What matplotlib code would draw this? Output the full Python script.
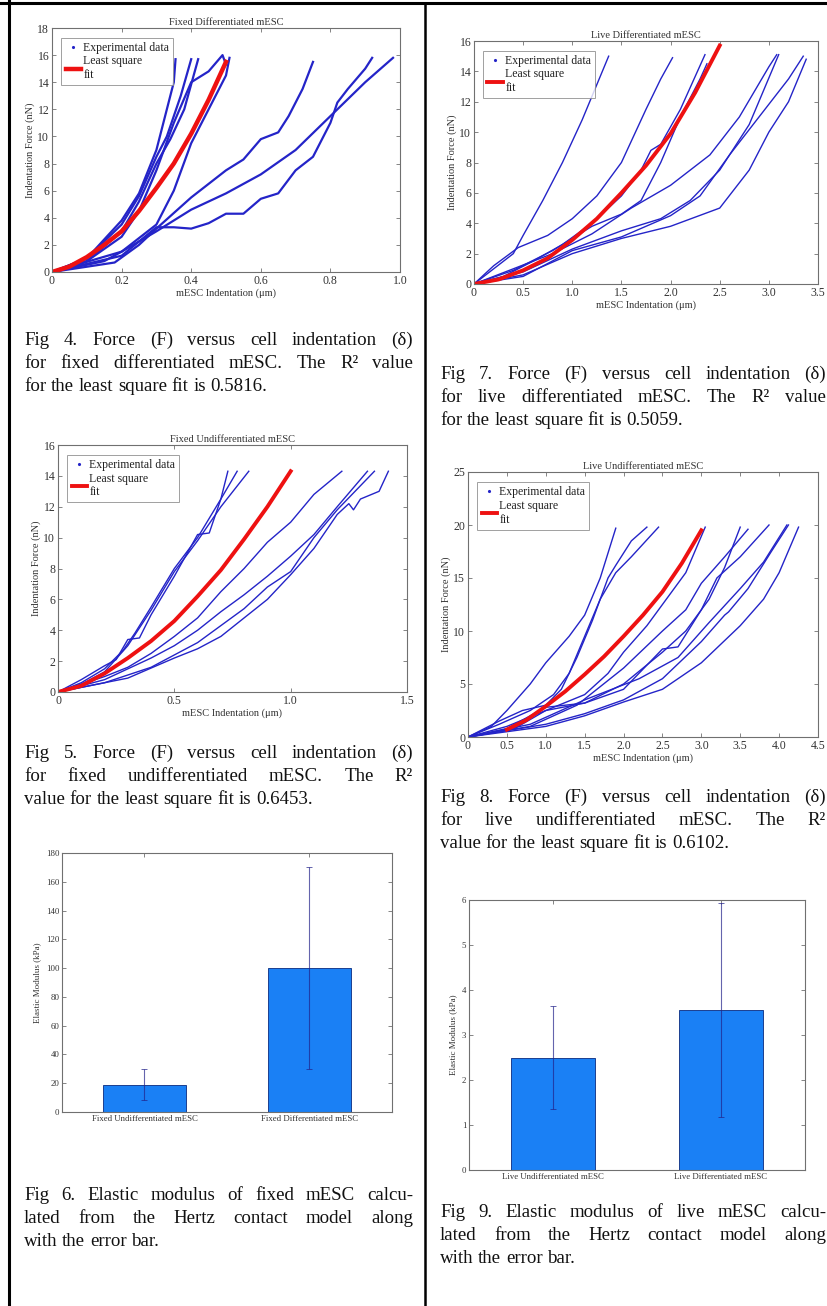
import matplotlib
matplotlib.use("Agg")
import matplotlib.pyplot as plt
from matplotlib.lines import Line2D

plt.rcParams['font.family'] = ['Liberation Serif', 'DejaVu Serif']

W, H = 828, 1306
BLUE = "#2424c8"
RED = "#ee1111"
BAR = "#1a80f5"

# ---- Fig 4: fixed differentiated (x um, y nN) ----
fd_x = [
    [0, 0.1, 0.2, 0.25, 0.3, 0.33, 0.35, 0.355],
    [0, 0.1, 0.2, 0.25, 0.3, 0.33, 0.37, 0.40],
    [0, 0.1, 0.2, 0.25, 0.3, 0.34, 0.38, 0.42],
    [0, 0.1, 0.2, 0.25, 0.3, 0.35, 0.4, 0.45, 0.49, 0.50],
    [0, 0.15, 0.2, 0.3, 0.35, 0.4, 0.45, 0.5, 0.51],
    [0, 0.18, 0.25, 0.3, 0.4, 0.5, 0.55, 0.6, 0.65, 0.68, 0.72, 0.75],
    [0, 0.2, 0.3, 0.35, 0.4, 0.45, 0.5, 0.55, 0.6, 0.65, 0.7, 0.75, 0.8, 0.82, 0.85, 0.9, 0.92],
    [0, 0.2, 0.3, 0.4, 0.5, 0.6, 0.7, 0.8, 0.9, 0.98],
]
fd_y = [
    [0, 1.0, 3.8, 5.8, 9.0, 12.0, 14.0, 15.7],
    [0, 1.0, 3.5, 5.6, 8.5, 10.0, 13.0, 15.7],
    [0, 0.8, 3.0, 5.2, 8.0, 9.8, 12.0, 15.7],
    [0, 0.8, 2.6, 4.5, 7.5, 11.0, 14.0, 14.8, 16.0, 15.3],
    [0, 0.8, 1.5, 3.5, 6.0, 9.5, 12.0, 14.5, 15.8],
    [0, 0.7, 2.0, 3.2, 5.5, 7.5, 8.3, 9.8, 10.3, 11.5, 13.5, 15.5],
    [0, 1.2, 3.3, 3.3, 3.2, 3.6, 4.3, 4.3, 5.4, 5.8, 7.5, 8.5, 11.0, 12.5, 13.5, 15.0, 15.8],
    [0, 1.5, 3.0, 4.6, 5.8, 7.2, 9.0, 11.5, 14.0, 15.8],
]
fd_fit_x = [0, 0.05, 0.1, 0.15, 0.2, 0.25, 0.3, 0.35, 0.4, 0.45, 0.5]
fd_fit_y = [0, 0.4, 1.1, 2.0, 3.0, 4.5, 6.2, 8.0, 10.2, 12.7, 15.5]

# ---- Fig 5: fixed undifferentiated ----
fu_x = [
    [0, 0.1, 0.2, 0.25, 0.3, 0.35, 0.4, 0.5, 0.6, 0.65, 0.7, 0.73],
    [0, 0.1, 0.2, 0.28, 0.33, 0.4, 0.5, 0.6, 0.7, 0.77],
    [0, 0.1, 0.2, 0.3, 0.4, 0.5, 0.6, 0.7, 0.82],
    [0, 0.2, 0.3, 0.4, 0.5, 0.6, 0.7, 0.8, 0.9, 1.0, 1.1, 1.22],
    [0, 0.2, 0.4, 0.5, 0.6, 0.7, 0.8, 0.9, 1.0, 1.1, 1.2, 1.33],
    [0, 0.2, 0.4, 0.6, 0.7, 0.8, 0.9, 1.0, 1.1, 1.2, 1.36],
    [0, 0.3, 0.5, 0.6, 0.7, 0.8, 0.9, 1.0, 1.1, 1.2, 1.25, 1.27, 1.3, 1.38, 1.42],
]
fu_y = [
    [0, 0.8, 1.7, 2.1, 3.4, 3.5, 5.0, 7.5, 10.2, 10.3, 12.5, 14.3],
    [0, 0.6, 1.5, 2.7, 3.8, 5.5, 8.0, 10.0, 12.5, 14.3],
    [0, 0.5, 1.3, 3.0, 5.3, 7.8, 9.8, 12.0, 14.3],
    [0, 1.0, 1.6, 2.5, 3.6, 4.8, 6.5, 8.0, 9.7, 11.0, 12.8, 14.3],
    [0, 0.8, 2.2, 3.0, 4.0, 5.2, 6.3, 7.5, 8.8, 10.2, 12.0, 14.3],
    [0, 0.6, 1.6, 3.2, 4.3, 5.4, 6.8, 7.8, 10.0, 11.8, 14.3],
    [0, 0.9, 2.2, 2.8, 3.6, 4.8, 6.0, 7.6, 9.3, 11.5, 12.2, 11.8, 12.5, 13.0, 14.3],
]
fu_fit_x = [0, 0.1, 0.2, 0.3, 0.4, 0.5, 0.6, 0.7, 0.8, 0.9, 1.0]
fu_fit_y = [0, 0.4, 1.2, 2.2, 3.3, 4.6, 6.2, 7.9, 9.9, 12.0, 14.3]

# ---- Fig 7: live differentiated ----
ld_x = [
    [0, 0.2, 0.4, 0.5, 0.7, 0.9, 1.1, 1.37],
    [0, 0.2, 0.45, 0.75, 1.0, 1.25, 1.5, 1.75, 1.9, 2.02],
    [0, 0.3, 0.6, 0.9, 1.2, 1.5, 1.7, 1.8, 1.9, 2.1, 2.35],
    [0, 0.4, 0.8, 1.2, 1.5, 1.7, 1.9, 2.1, 2.3, 2.37],
    [0, 0.4, 0.8, 1.2, 1.6, 2.0, 2.4, 2.7, 3.0, 3.08],
    [0, 0.5, 1.0, 1.5, 1.9, 2.2, 2.5, 2.8, 3.1],
    [0, 0.5, 1.0, 1.5, 2.0, 2.3, 2.6, 2.9, 3.2, 3.35],
    [0, 0.5, 1.0, 1.5, 2.0, 2.5, 2.8, 3.0, 3.2, 3.38],
]
ld_y = [
    [0, 1.0, 2.0, 3.2, 5.5, 8.0, 10.8, 15.0],
    [0, 1.2, 2.4, 3.2, 4.3, 5.8, 8.0, 11.5, 13.5, 14.9],
    [0, 0.5, 1.5, 2.6, 4.0, 5.8, 7.5, 8.8, 9.2, 11.5, 15.1],
    [0, 0.9, 2.2, 3.8, 4.6, 5.5, 8.0, 11.0, 13.5, 14.5],
    [0, 1.0, 2.0, 3.3, 5.0, 6.5, 8.5, 11.0, 14.3, 15.1],
    [0, 0.8, 2.3, 3.5, 4.3, 5.5, 7.5, 10.5, 15.1],
    [0, 0.5, 2.2, 3.1, 4.5, 5.8, 8.5, 11.0, 13.5, 15.0],
    [0, 0.6, 2.0, 3.0, 3.8, 5.0, 7.5, 10.0, 12.0, 14.8],
]
ld_fit_x = [0, 0.25, 0.5, 0.75, 1.0, 1.25, 1.5, 1.75, 2.0, 2.25, 2.5]
ld_fit_y = [0, 0.3, 0.9, 1.7, 2.9, 4.3, 6.0, 7.8, 9.9, 12.6, 15.7]

# ---- Fig 8: live undifferentiated ----
lu_x = [
    [0, 0.3, 0.5, 0.8, 1.0, 1.3, 1.5, 1.7, 1.9],
    [0, 0.4, 0.7, 1.0, 1.2, 1.4, 1.6, 1.8, 1.9, 2.1, 2.3],
    [0, 0.4, 0.8, 1.1, 1.3, 1.5, 1.7, 1.9, 2.1, 2.45],
    [0, 0.5, 1.0, 1.5, 1.8, 2.0, 2.3, 2.6, 2.8, 3.05],
    [0, 0.5, 1.0, 1.5, 2.0, 2.5, 2.8, 3.1, 3.3, 3.5],
    [0, 0.8, 1.4, 2.0, 2.5, 2.8, 3.0, 3.3, 3.6],
    [0, 0.6, 1.0, 1.5, 2.0, 2.5, 2.7, 3.0, 3.2, 3.5, 3.87],
    [0, 1.0, 1.5, 2.0, 2.5, 3.0, 3.3, 3.35, 3.6, 3.9, 4.12],
    [0, 1.0, 1.5, 2.0, 2.5, 3.0, 3.5, 3.8, 4.0, 4.25],
    [0, 0.8, 1.5, 2.2, 2.7, 3.1, 3.5, 3.8, 4.1],
]
lu_y = [
    [0, 1.0, 2.5, 5.0, 7.0, 9.5, 11.5, 15.0, 19.7],
    [0, 1.5, 2.5, 3.0, 4.5, 7.5, 11.0, 15.0, 16.2, 18.5, 19.8],
    [0, 1.2, 2.5, 4.0, 6.0, 9.5, 13.0, 15.5, 17.0, 19.8],
    [0, 1.0, 2.5, 4.0, 6.0, 8.0, 10.5, 13.5, 15.5, 19.8],
    [0, 0.8, 2.8, 3.2, 5.0, 8.0, 10.0, 13.0, 16.0, 19.8],
    [0, 1.0, 3.0, 6.5, 10.0, 12.0, 14.5, 17.0, 19.6],
    [0, 0.8, 2.5, 3.2, 4.5, 8.3, 8.5, 12.0, 15.0, 17.0, 20.0],
    [0, 1.2, 2.2, 3.5, 5.5, 9.0, 11.5, 11.8, 14.0, 17.5, 20.0],
    [0, 1.0, 2.0, 3.3, 4.5, 7.0, 10.5, 13.0, 15.5, 19.8],
    [0, 1.2, 3.5, 5.5, 7.5, 10.8, 14.0, 16.5, 20.0],
]
lu_fit_x = [0.5, 0.75, 1.0, 1.25, 1.5, 1.75, 2.0, 2.25, 2.5, 2.75, 3.0]
lu_fit_y = [0.7, 1.6, 2.9, 4.3, 5.9, 7.6, 9.5, 11.5, 13.7, 16.4, 19.5]

# ---- Fig 6 / Fig 9: elastic modulus bars ----
fixed_names = ["Fixed Undifferentiated mESC", "Fixed Differentiated mESC"]
fixed_mod = [19, 100]
fixed_err = [11, 70]
live_names = ["Live Undifferentiated mESC", "Live Differentiated mESC"]
live_mod = [2.5, 3.55]
live_err = [1.15, 2.38]

cap4 = ["Fig 4. Force (F) versus cell indentation (\u03b4)",
        "for fixed differentiated mESC. The R\u00b2 value",
        "for the least square fit is 0.5816."]
cap5 = ["Fig 5. Force (F) versus cell indentation (\u03b4)",
        "for fixed undifferentiated mESC. The R\u00b2",
        "value for the least square fit is 0.6453."]
cap6 = ["Fig 6. Elastic modulus of fixed mESC calcu-",
        "lated from the Hertz contact model along",
        "with the error bar."]
cap7 = ["Fig 7. Force (F) versus cell indentation (\u03b4)",
        "for live differentiated mESC. The R\u00b2 value",
        "for the least square fit is 0.5059."]
cap8 = ["Fig 8. Force (F) versus cell indentation (\u03b4)",
        "for live undifferentiated mESC. The R\u00b2",
        "value for the least square fit is 0.6102."]
cap9 = ["Fig 9. Elastic modulus of live mESC calcu-",
        "lated from the Hertz contact model along",
        "with the error bar."]

fig = plt.figure(figsize=(W / 100, H / 100), dpi=100)
fig.patch.set_facecolor("white")


def box(l, t, r, b):
    return fig.add_axes([l / W, 1 - b / H, (r - l) / W, (b - t) / H])


def matlab_style(ax, fs):
    for s in ax.spines.values():
        s.set_color("#707070")
        s.set_linewidth(0.8)
    ax.tick_params(direction="in", top=True, right=True, length=3,
                   width=0.6, color="#707070", labelsize=fs,
                   labelcolor="#333333", pad=2)


def force_plot(ax, xs, ys, fx, fy, xmax, ymax, xt, yt, title, lw, rlw):
    for x, y in zip(xs, ys):
        ax.plot(x, y, color=BLUE, lw=lw, solid_joinstyle="round")
    ax.plot([], [], ".", color=BLUE, ms=2.5, label="Experimental data")
    ax.plot(fx, fy, color=RED, lw=rlw, label="Least square\nfit")
    ax.set_xlim(0, xmax)
    ax.set_ylim(0, ymax)
    ax.set_xticks(xt)
    ax.set_yticks(yt)
    ax.set_xticklabels([("%g" % v) if v == 0 else ("%.1f" % v) for v in xt])
    ax.set_yticklabels(["%g" % v for v in yt])
    matlab_style(ax, 8.5)
    ax.set_title(title, fontsize=7.5, pad=2, color="#333333")
    ax.set_xlabel("mESC Indentation (\u03bcm)", fontsize=7.5, labelpad=1, color="#333333")
    ax.set_ylabel("Indentation Force (nN)", fontsize=7.5, labelpad=2, color="#333333")
    leg = ax.legend(loc="upper left", fontsize=8.5, handlelength=1.3,
                    handletextpad=0.2, borderpad=0.35, labelspacing=0.15,
                    fancybox=False, bbox_to_anchor=(0.01, 0.985))
    leg.get_frame().set_edgecolor("#888888")
    leg.get_frame().set_linewidth(0.7)
    for t in leg.get_texts():
        t.set_color("#222222")


def bar_plot(ax, names, vals, errs, ymax, yt, ylab):
    pos = [1, 2]
    ax.bar(pos, vals, width=0.5, color=BAR, edgecolor="#1b3f8f", lw=0.7, zorder=2)
    ax.errorbar(pos, vals, yerr=errs, fmt="none", ecolor="#22228a", elinewidth=0.8,
                capsize=2, capthick=0.7, alpha=0.7, zorder=3)
    ax.set_xlim(0.5, 2.5)
    ax.set_ylim(0, ymax)
    ax.set_xticks(pos)
    ax.set_xticklabels(names)
    ax.set_yticks(yt)
    matlab_style(ax, 6.3)
    ax.set_ylabel(ylab, fontsize=6.5, labelpad=3, color="#333333")


ax1 = box(52, 28, 400, 272)
force_plot(ax1, fd_x, fd_y, fd_fit_x, fd_fit_y, 1.0, 18,
           [0, 0.2, 0.4, 0.6, 0.8, 1.0], list(range(0, 19, 2)),
           "Fixed Differentiated mESC", 1.6, 3.2)

ax2 = box(58, 445, 407, 692)
force_plot(ax2, fu_x, fu_y, fu_fit_x, fu_fit_y, 1.5, 16,
           [0, 0.5, 1.0, 1.5], list(range(0, 17, 2)),
           "Fixed Undifferentiated mESC", 1.0, 2.8)

ax3 = box(62, 853, 392, 1112)
bar_plot(ax3, fixed_names, fixed_mod, fixed_err, 180, list(range(0, 181, 20)),
         "Elastic Modulus (kPa)")

ax4 = box(474, 41, 818, 284)
force_plot(ax4, ld_x, ld_y, ld_fit_x, ld_fit_y, 3.5, 16,
           [0, 0.5, 1.0, 1.5, 2.0, 2.5, 3.0, 3.5], list(range(0, 17, 2)),
           "Live Differentiated mESC", 1.0, 2.8)

ax5 = box(468, 472, 818, 737)
force_plot(ax5, lu_x, lu_y, lu_fit_x, lu_fit_y, 4.5, 25,
           [0, 0.5, 1.0, 1.5, 2.0, 2.5, 3.0, 3.5, 4.0, 4.5], list(range(0, 26, 5)),
           "Live Undifferentiated mESC", 1.0, 2.8)

ax6 = box(469, 900, 805, 1170)
bar_plot(ax6, live_names, live_mod, live_err, 6, list(range(0, 7)),
         "Elastic Modulus (kPa)")

# page borders
for (x0, y0, x1, y1, lw) in [(9, 0, 9, H, 2.2), (0, 3, W, 3, 2.2), (425, 3, 425, H, 1.8)]:
    fig.add_artist(Line2D([x0 / W, x1 / W], [1 - y0 / H, 1 - y1 / H],
                          transform=fig.transFigure, color="black", lw=lw))

renderer = fig.canvas.get_renderer()


def caption(lines, x0, x1, base, lh=23, fs=13.6):
    for i, line in enumerate(lines):
        y = 1 - (base + i * lh) / H
        words = line.split(" ")
        texts = [fig.text(0, y, w, fontsize=fs, va="baseline", ha="left", color="#111111")
                 for w in words]
        widths = [t.get_window_extent(renderer).width for t in texts]
        if i < len(lines) - 1 and len(words) > 1:
            gap = (x1 - x0 - sum(widths)) / (len(words) - 1)
        else:
            gap = fs * 100 / 72 * 0.25
        x = x0
        for t, w in zip(texts, widths):
            t.set_x(x / W)
            x += w + gap


caption(cap4, 24, 413, 345)
caption(cap5, 24, 413, 758)
caption(cap6, 24, 413, 1200)
caption(cap7, 440, 826, 379)
caption(cap8, 440, 826, 802)
caption(cap9, 440, 826, 1217)

fig.savefig("out.png", dpi=100, facecolor="white")
